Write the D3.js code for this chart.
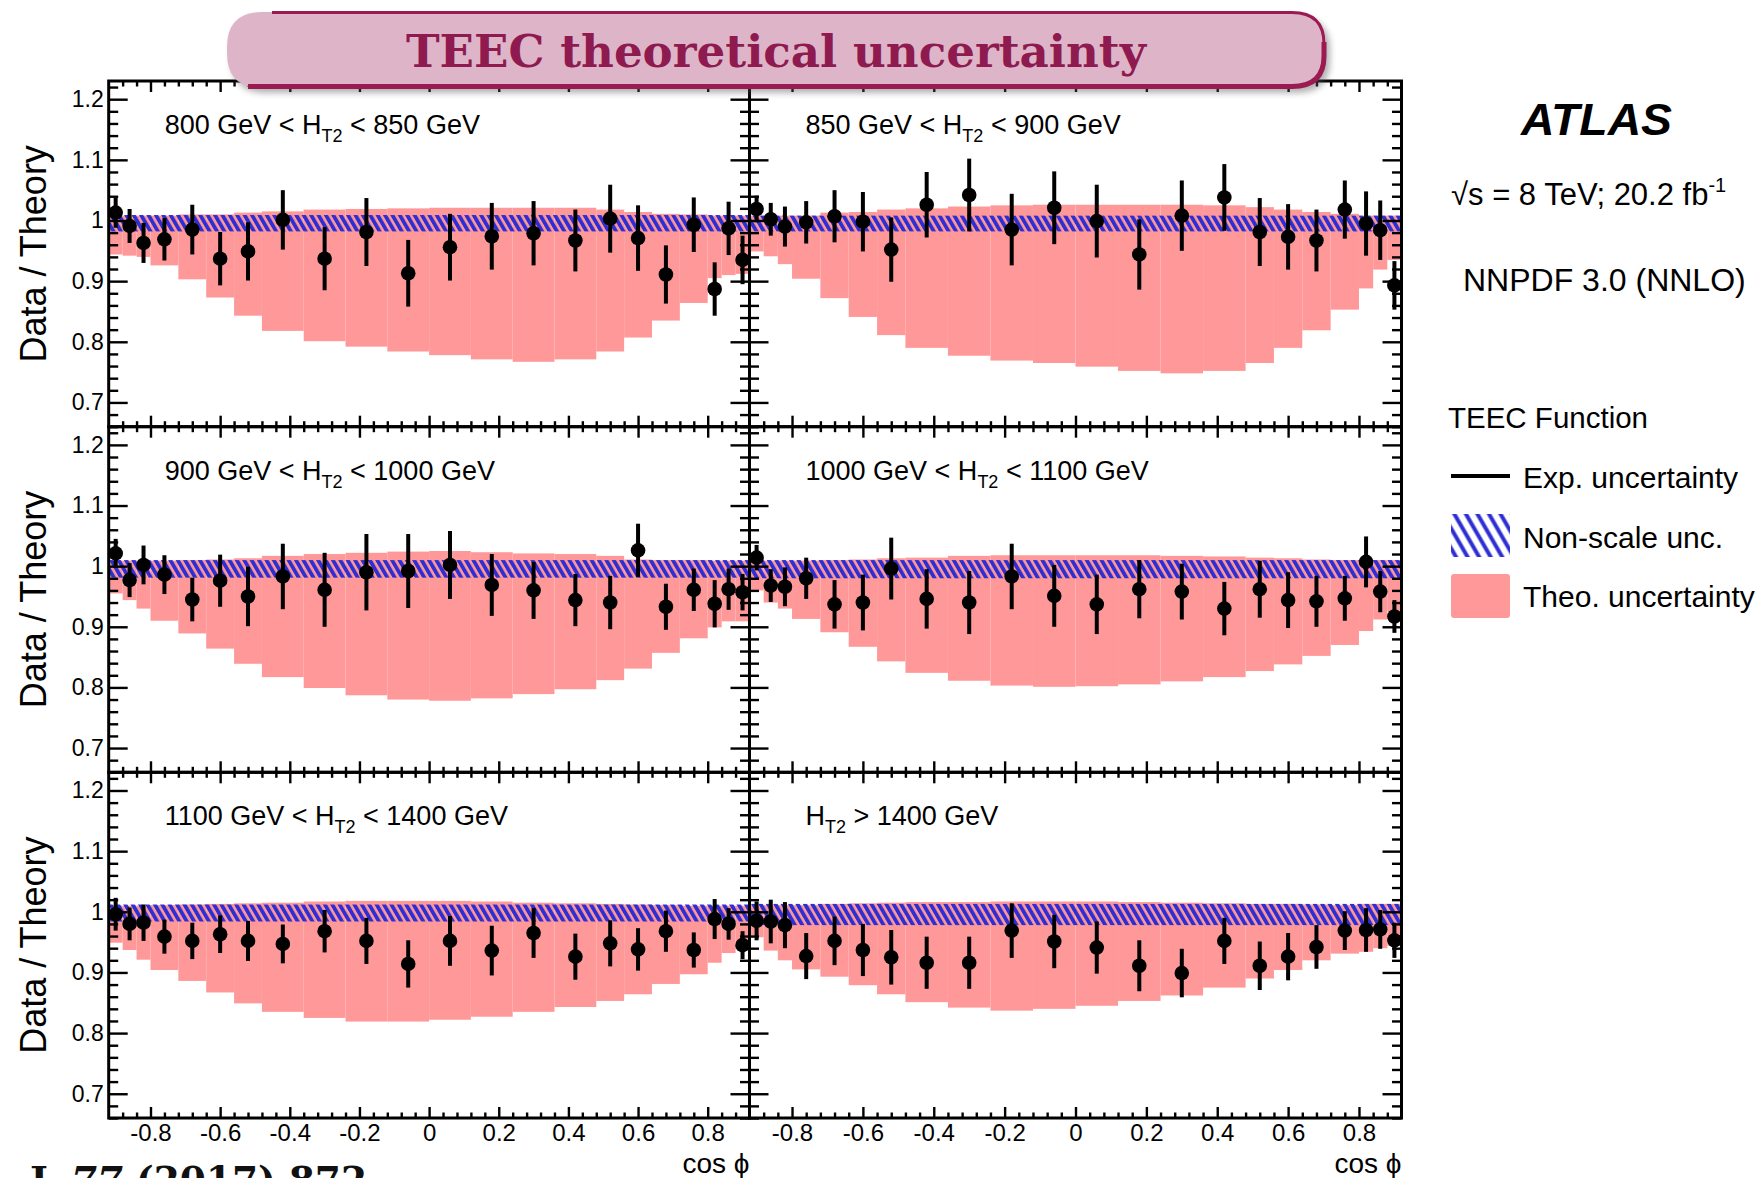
<!DOCTYPE html>
<html>
<head>
<meta charset="utf-8">
<script src="https://cdn.jsdelivr.net/npm/d3@7"></script>
<style>
  html, body { margin: 0; padding: 0; background: #ffffff; }
  svg { display: block; font-family: "Liberation Sans", Arial, Helvetica, sans-serif; }
</style>
</head>
<body>
<svg id="chart" width="1758" height="1178"></svg>
<script>
// cos(phi) bin edges: fine bins at the ends, wide bins in the centre
const binEdges = [-0.92, -0.88, -0.84, -0.80, -0.72, -0.64, -0.56, -0.48, -0.36, -0.24, -0.12, 0,
                  0.12, 0.24, 0.36, 0.48, 0.56, 0.64, 0.72, 0.80, 0.84, 0.88, 0.92];

// H_T2 slice labels (text before and after the "H_T2" symbol)
const sliceLabelPre  = ["800 GeV < ", "850 GeV < ", "900 GeV < ", "1000 GeV < ", "1100 GeV < ", ""];
const sliceLabelPost = [" < 850 GeV", " < 900 GeV", " < 1000 GeV", " < 1100 GeV", " < 1400 GeV", " > 1400 GeV"];

// Data / theory ratio per bin and experimental uncertainty
const ratio800  = [1.013, 0.991, 0.963, 0.969, 0.985, 0.937, 0.949, 1.001, 0.937, 0.981, 0.913, 0.956, 0.974, 0.979, 0.967, 1.003, 0.971, 0.911, 0.993, 0.887, 0.987, 0.935];
const err800    = [0.025, 0.028, 0.033, 0.035, 0.041, 0.044, 0.048, 0.049, 0.052, 0.056, 0.055, 0.055, 0.055, 0.053, 0.051, 0.056, 0.054, 0.048, 0.045, 0.044, 0.044, 0.040];
const ratio850  = [1.019, 1.002, 0.990, 0.997, 1.007, 0.998, 0.952, 1.026, 1.042, 0.985, 1.021, 0.999, 0.944, 1.008, 1.038, 0.981, 0.973, 0.967, 1.018, 0.995, 0.984, 0.893];
const err850    = [0.022, 0.027, 0.033, 0.035, 0.043, 0.049, 0.053, 0.054, 0.060, 0.059, 0.060, 0.060, 0.058, 0.058, 0.055, 0.056, 0.054, 0.051, 0.048, 0.053, 0.049, 0.040];
const ratio900  = [1.021, 0.977, 1.002, 0.986, 0.945, 0.976, 0.950, 0.983, 0.961, 0.990, 0.992, 1.002, 0.969, 0.960, 0.944, 0.940, 1.026, 0.933, 0.961, 0.938, 0.962, 0.957];
const err900    = [0.024, 0.028, 0.032, 0.032, 0.036, 0.043, 0.049, 0.054, 0.061, 0.063, 0.061, 0.056, 0.051, 0.047, 0.043, 0.044, 0.044, 0.038, 0.035, 0.039, 0.034, 0.030];
const ratio1000 = [1.014, 0.968, 0.966, 0.980, 0.937, 0.940, 0.996, 0.946, 0.940, 0.983, 0.951, 0.937, 0.962, 0.958, 0.930, 0.962, 0.944, 0.942, 0.947, 1.007, 0.958, 0.917];
const err1000   = [0.021, 0.027, 0.032, 0.034, 0.040, 0.046, 0.051, 0.049, 0.052, 0.054, 0.051, 0.049, 0.048, 0.046, 0.044, 0.047, 0.046, 0.042, 0.037, 0.042, 0.034, 0.027];
const ratio1100 = [0.996, 0.980, 0.982, 0.959, 0.952, 0.963, 0.952, 0.947, 0.968, 0.952, 0.914, 0.952, 0.936, 0.965, 0.926, 0.948, 0.938, 0.968, 0.937, 0.988, 0.980, 0.945];
const err1100   = [0.027, 0.027, 0.030, 0.028, 0.030, 0.031, 0.033, 0.032, 0.035, 0.038, 0.039, 0.041, 0.041, 0.041, 0.038, 0.038, 0.035, 0.034, 0.029, 0.033, 0.026, 0.023];
const ratio1400 = [0.985, 0.984, 0.978, 0.927, 0.952, 0.937, 0.925, 0.916, 0.916, 0.969, 0.951, 0.941, 0.911, 0.899, 0.952, 0.911, 0.926, 0.942, 0.969, 0.970, 0.971, 0.953];
const err1400   = [0.032, 0.036, 0.038, 0.038, 0.040, 0.043, 0.045, 0.043, 0.043, 0.045, 0.044, 0.043, 0.042, 0.040, 0.038, 0.040, 0.039, 0.036, 0.032, 0.036, 0.032, 0.029];

// Total theoretical uncertainty envelope (upper / lower edge per bin)
const theoHigh800  = [1.008, 1.008, 1.008, 1.008, 1.010, 1.010, 1.013, 1.015, 1.018, 1.019, 1.020, 1.021, 1.021, 1.021, 1.021, 1.018, 1.014, 1.011, 1.010, 1.008, 1.008, 1.008];
const theoLow800   = [0.944, 0.942, 0.940, 0.926, 0.903, 0.873, 0.843, 0.818, 0.801, 0.792, 0.784, 0.778, 0.771, 0.767, 0.771, 0.784, 0.807, 0.835, 0.864, 0.905, 0.910, 0.912];
const theoHigh850  = [1.008, 1.008, 1.008, 1.008, 1.013, 1.014, 1.018, 1.020, 1.023, 1.025, 1.026, 1.026, 1.026, 1.026, 1.025, 1.022, 1.018, 1.014, 1.011, 1.008, 1.008, 1.008];
const theoLow850   = [0.949, 0.941, 0.928, 0.904, 0.872, 0.841, 0.811, 0.790, 0.777, 0.769, 0.765, 0.759, 0.752, 0.748, 0.752, 0.765, 0.790, 0.819, 0.853, 0.888, 0.919, 0.935];
const theoHigh900  = [1.009, 1.009, 1.009, 1.009, 1.010, 1.011, 1.013, 1.017, 1.020, 1.022, 1.024, 1.025, 1.023, 1.021, 1.020, 1.017, 1.011, 1.010, 1.010, 1.009, 1.009, 1.009];
const theoLow900   = [0.955, 0.944, 0.930, 0.910, 0.889, 0.864, 0.839, 0.817, 0.799, 0.787, 0.780, 0.778, 0.782, 0.789, 0.797, 0.812, 0.831, 0.857, 0.881, 0.899, 0.909, 0.909];
const theoHigh1000 = [1.009, 1.009, 1.009, 1.009, 1.010, 1.011, 1.013, 1.014, 1.017, 1.018, 1.018, 1.018, 1.018, 1.017, 1.016, 1.014, 1.013, 1.011, 1.010, 1.010, 1.010, 1.010];
const theoLow1000  = [0.960, 0.940, 0.930, 0.913, 0.891, 0.867, 0.843, 0.824, 0.811, 0.803, 0.801, 0.802, 0.805, 0.810, 0.817, 0.827, 0.838, 0.852, 0.870, 0.893, 0.912, 0.925];
const theoHigh1100 = [1.010, 1.010, 1.010, 1.011, 1.012, 1.013, 1.014, 1.015, 1.017, 1.018, 1.018, 1.018, 1.017, 1.015, 1.014, 1.013, 1.012, 1.011, 1.010, 1.010, 1.010, 1.010];
const theoLow1100  = [0.949, 0.937, 0.921, 0.904, 0.886, 0.867, 0.849, 0.835, 0.825, 0.819, 0.819, 0.822, 0.827, 0.835, 0.843, 0.853, 0.864, 0.881, 0.897, 0.916, 0.932, 0.938];
const theoHigh1400 = [1.011, 1.011, 1.011, 1.011, 1.013, 1.014, 1.015, 1.016, 1.016, 1.017, 1.017, 1.017, 1.016, 1.015, 1.014, 1.013, 1.013, 1.012, 1.011, 1.013, 1.013, 1.013];
const theoLow1400  = [0.958, 0.936, 0.920, 0.905, 0.893, 0.879, 0.864, 0.851, 0.842, 0.837, 0.840, 0.845, 0.853, 0.862, 0.875, 0.890, 0.904, 0.920, 0.931, 0.934, 0.940, 0.944];

// Non-scale (PDF, alpha_s, NP) uncertainty band per slice
const nonScaleHigh = [1.009, 1.008, 1.010, 1.010, 1.012, 1.013];
const nonScaleLow  = [0.982, 0.982, 0.981, 0.980, 0.984, 0.978];

// Axis ticks
const yMajorTicks = [0.7, 0.8, 0.9, 1.0, 1.1, 1.2];
const xMajorTicks = [-0.8, -0.6, -0.4, -0.2, 0, 0.2, 0.4, 0.6, 0.8];

const ratioSets = [ratio800, ratio850, ratio900, ratio1000, ratio1100, ratio1400];
const errSets   = [err800, err850, err900, err1000, err1100, err1400];
const highSets  = [theoHigh800, theoHigh850, theoHigh900, theoHigh1000, theoHigh1100, theoHigh1400];
const lowSets   = [theoLow800, theoLow850, theoLow900, theoLow1000, theoLow1100, theoLow1400];

// ---------------------------------------------------------------- layout
const colEdges = [[108.7, 749.5], [749.5, 1401.5]];
const rowEdges = [81, 426.7, 772.3, 1118];
const xDomain = [-0.92, 0.92];
const yDomain = [0.66, 1.23];

const pinkFill = "#ff9999";
const hatchBlue = "#2e2ed2";

const svg = d3.select("#chart");
const defs = svg.append("defs");

// hatch used in the panels
const hp = defs.append("pattern").attr("id", "hatchBand")
  .attr("patternUnits", "userSpaceOnUse").attr("width", 6.4).attr("height", 30)
  .attr("patternTransform", "rotate(-30)");
hp.append("line").attr("x1", 1.9).attr("y1", -2).attr("x2", 1.9).attr("y2", 32)
  .attr("stroke", hatchBlue).attr("stroke-width", 3.8);

// hatch used in the legend box
const hl = defs.append("pattern").attr("id", "hatchLegend")
  .attr("patternUnits", "userSpaceOnUse").attr("width", 10).attr("height", 40)
  .attr("patternTransform", "rotate(-30)");
hl.append("line").attr("x1", 2.5).attr("y1", -2).attr("x2", 2.5).attr("y2", 42)
  .attr("stroke", hatchBlue).attr("stroke-width", 4);

// soft drop shadow for the heading banner
const sh = defs.append("filter").attr("id", "bannerShadow")
  .attr("x", "-5%").attr("y", "-30%").attr("width", "110%").attr("height", "160%");
sh.append("feGaussianBlur").attr("stdDeviation", 3);

const minorY = d3.range(0.66, 1.2301, 0.02).map(v => +v.toFixed(2))
  .filter(v => !yMajorTicks.some(m => Math.abs(m - v) < 1e-6));
const minorX = d3.range(-0.88, 0.8801, 0.04).map(v => +v.toFixed(2))
  .filter(v => !xMajorTicks.some(m => Math.abs(m - v) < 1e-6));

const fmtTick = d => {
  if (Math.abs(d) < 1e-9) return "0";
  if (Math.abs(d - 1) < 1e-9) return "1";
  return (d < 0 ? "-" : "") + Math.abs(d).toFixed(1);
};

function styleTicks(g) {
  g.select(".domain").remove();
  g.selectAll(".tick line").attr("stroke", "#000").attr("stroke-width", 2.4);
  g.selectAll(".tick text").remove();
}

const binCenters = d3.range(binEdges.length - 1).map(j => (binEdges[j] + binEdges[j + 1]) / 2);

for (let p = 0; p < 6; p++) {
  const r = Math.floor(p / 2), c = p % 2;
  const [x0, x1] = colEdges[c];
  const top = rowEdges[r], bottom = rowEdges[r + 1];
  const x = d3.scaleLinear().domain(xDomain).range([x0, x1]);
  const y = d3.scaleLinear().domain(yDomain).range([bottom, top]);
  const g = svg.append("g").attr("class", "panel");

  // theory uncertainty envelope, one step per bin
  g.append("g").selectAll("rect")
    .data(binCenters.map((cx, j) => ({ j, hi: highSets[p][j], lo: lowSets[p][j] })))
    .join("rect")
    .attr("x", d => x(binEdges[d.j]))
    .attr("width", d => x(binEdges[d.j + 1]) - x(binEdges[d.j]))
    .attr("y", d => y(d.hi))
    .attr("height", d => y(d.lo) - y(d.hi))
    .attr("fill", pinkFill);

  // non-scale uncertainty band
  g.append("rect")
    .attr("x", x(xDomain[0])).attr("width", x(xDomain[1]) - x(xDomain[0]))
    .attr("y", y(nonScaleHigh[p])).attr("height", y(nonScaleLow[p]) - y(nonScaleHigh[p]))
    .attr("fill", "url(#hatchBand)");

  // ticks, pointing inwards on all four sides
  const ax = g.append("g");
  ax.append("g").attr("transform", `translate(${x0},0)`)
    .call(d3.axisRight(y).tickValues(yMajorTicks).tickSize(19)).call(styleTicks);
  ax.append("g").attr("transform", `translate(${x0},0)`)
    .call(d3.axisRight(y).tickValues(minorY).tickSize(9.5)).call(styleTicks);
  ax.append("g").attr("transform", `translate(${x1},0)`)
    .call(d3.axisLeft(y).tickValues(yMajorTicks).tickSize(19)).call(styleTicks);
  ax.append("g").attr("transform", `translate(${x1},0)`)
    .call(d3.axisLeft(y).tickValues(minorY).tickSize(9.5)).call(styleTicks);
  ax.append("g").attr("transform", `translate(0,${bottom})`)
    .call(d3.axisTop(x).tickValues(xMajorTicks).tickSize(11)).call(styleTicks);
  ax.append("g").attr("transform", `translate(0,${bottom})`)
    .call(d3.axisTop(x).tickValues(minorX).tickSize(5.5)).call(styleTicks);
  ax.append("g").attr("transform", `translate(0,${top})`)
    .call(d3.axisBottom(x).tickValues(xMajorTicks).tickSize(11)).call(styleTicks);
  ax.append("g").attr("transform", `translate(0,${top})`)
    .call(d3.axisBottom(x).tickValues(minorX).tickSize(5.5)).call(styleTicks);

  // frame
  g.append("rect").attr("x", x0).attr("y", top)
    .attr("width", x1 - x0).attr("height", bottom - top)
    .attr("fill", "none").attr("stroke", "#000").attr("stroke-width", 3);

  // tick labels
  if (c === 0) {
    const yl = g.append("g").attr("transform", `translate(${x0},0)`)
      .call(d3.axisLeft(y).tickValues(yMajorTicks).tickSize(0).tickPadding(5).tickFormat(fmtTick));
    yl.select(".domain").remove();
    yl.attr("font-size", 23).attr("font-family", "Liberation Sans, Arial, sans-serif");
    yl.selectAll("text").attr("fill", "#000");

    svg.append("text")
      .attr("transform", `translate(46,${(top + bottom) / 2}) rotate(-90)`)
      .attr("text-anchor", "middle").attr("font-size", 36).attr("fill", "#000")
      .text("Data / Theory");
  }
  if (r === 2) {
    const xl = g.append("g").attr("transform", `translate(0,${bottom})`)
      .call(d3.axisBottom(x).tickValues(xMajorTicks).tickSize(0).tickPadding(6).tickFormat(fmtTick));
    xl.select(".domain").remove();
    xl.attr("font-size", 24).attr("font-family", "Liberation Sans, Arial, sans-serif");
    xl.selectAll("text").attr("fill", "#000");

    svg.append("text")
      .attr("x", x1).attr("y", 1173).attr("text-anchor", "end")
      .attr("font-size", 28).attr("fill", "#000")
      .text("cos \u03D5");
  }

  // slice label
  const lab = g.append("text").attr("x", x0 + 56).attr("y", top + 53)
    .attr("font-size", 27).attr("fill", "#000");
  lab.append("tspan").text(sliceLabelPre[p] + "H");
  lab.append("tspan").attr("font-size", 18).attr("dy", 8).text("T2");
  lab.append("tspan").attr("dy", -8).text(sliceLabelPost[p]);

  // data points with experimental uncertainty
  const pts = binCenters.map((cx, j) => ({ cx, v: ratioSets[p][j], e: errSets[p][j] }));
  g.append("g").selectAll("line").data(pts).join("line")
    .attr("x1", d => x(d.cx)).attr("x2", d => x(d.cx))
    .attr("y1", d => y(d.v + d.e)).attr("y2", d => y(d.v - d.e))
    .attr("stroke", "#000").attr("stroke-width", 4);
  g.append("g").selectAll("circle").data(pts).join("circle")
    .attr("cx", d => x(d.cx)).attr("cy", d => y(d.v)).attr("r", 7.3)
    .attr("fill", "#000");
}

// ---------------------------------------------------------------- right-hand annotations
svg.append("text").attr("x", 1521).attr("y", 135)
  .attr("font-size", 45).attr("font-weight", "bold").attr("font-style", "italic")
  .attr("textLength", 151).attr("lengthAdjust", "spacingAndGlyphs")
  .attr("fill", "#000").text("ATLAS");

const energy = svg.append("text").attr("x", 1451).attr("y", 205).attr("font-size", 31).attr("fill", "#000");
energy.append("tspan").text("\u221As = 8 TeV; 20.2 fb");
energy.append("tspan").attr("font-size", 20).attr("dy", -13).text("-1");

svg.append("text").attr("x", 1463).attr("y", 291).attr("font-size", 32)
  .attr("fill", "#000").text("NNPDF 3.0 (NNLO)");

svg.append("text").attr("x", 1448).attr("y", 428).attr("font-size", 29.5)
  .attr("fill", "#000").text("TEEC Function");

// legend
const legendX = 1451, legendW = 59, legendTextX = 1523;
svg.append("line").attr("x1", legendX).attr("x2", legendX + legendW)
  .attr("y1", 476).attr("y2", 476).attr("stroke", "#000").attr("stroke-width", 3.8);
svg.append("text").attr("x", legendTextX).attr("y", 488).attr("font-size", 30)
  .attr("fill", "#000").text("Exp. uncertainty");

svg.append("rect").attr("x", legendX).attr("y", 514).attr("width", legendW).attr("height", 43)
  .attr("fill", "url(#hatchLegend)");
svg.append("text").attr("x", legendTextX).attr("y", 548).attr("font-size", 30)
  .attr("fill", "#000").text("Non-scale unc.");

svg.append("rect").attr("x", legendX).attr("y", 574).attr("width", legendW).attr("height", 44)
  .attr("rx", 3).attr("fill", pinkFill);
svg.append("text").attr("x", legendTextX).attr("y", 607).attr("font-size", 30)
  .attr("fill", "#000").text("Theo. uncertainty");

// ---------------------------------------------------------------- heading banner
const bannerPath = "M 262,12 L 1292,12 Q 1326,12 1326,44 L 1326,56 Q 1326,88 1292,88 L 262,88 Q 227,88 227,53 L 227,47 Q 227,12 262,12 Z";
svg.append("path").attr("d", bannerPath).attr("transform", "translate(4,5)")
  .attr("fill", "#555").attr("opacity", 0.45).attr("filter", "url(#bannerShadow)");
svg.append("path").attr("d", bannerPath).attr("fill", "#deb5c8");
svg.append("path").attr("d", "M 272,12.5 L 1292,12.5 Q 1324,12.5 1324,44")
  .attr("fill", "none").attr("stroke", "#9b1a52").attr("stroke-width", 3);
svg.append("path").attr("d", "M 1324,42 L 1324,56 Q 1324,86.5 1292,86.5 L 248,86.5")
  .attr("fill", "none").attr("stroke", "#9b1a52").attr("stroke-width", 5);
svg.append("text").attr("x", 776).attr("y", 67).attr("text-anchor", "middle")
  .attr("font-family", "DejaVu Serif, serif").attr("font-weight", "bold").attr("font-size", 44)
  .attr("textLength", 740).attr("lengthAdjust", "spacingAndGlyphs")
  .attr("fill", "#8f1a50").text("TEEC theoretical uncertainty");

// journal reference at the foot of the page
const ref = svg.append("text").attr("x", 30).attr("y", 1193)
  .attr("font-family", "DejaVu Serif, serif").attr("font-weight", "bold").attr("font-size", 37)
  .attr("textLength", 337).attr("lengthAdjust", "spacingAndGlyphs").attr("fill", "#111");
ref.append("tspan").text("J. ");
ref.append("tspan").attr("font-style", "italic").text("77");
ref.append("tspan").text(" (2017) 872");
</script>
</body>
</html>
